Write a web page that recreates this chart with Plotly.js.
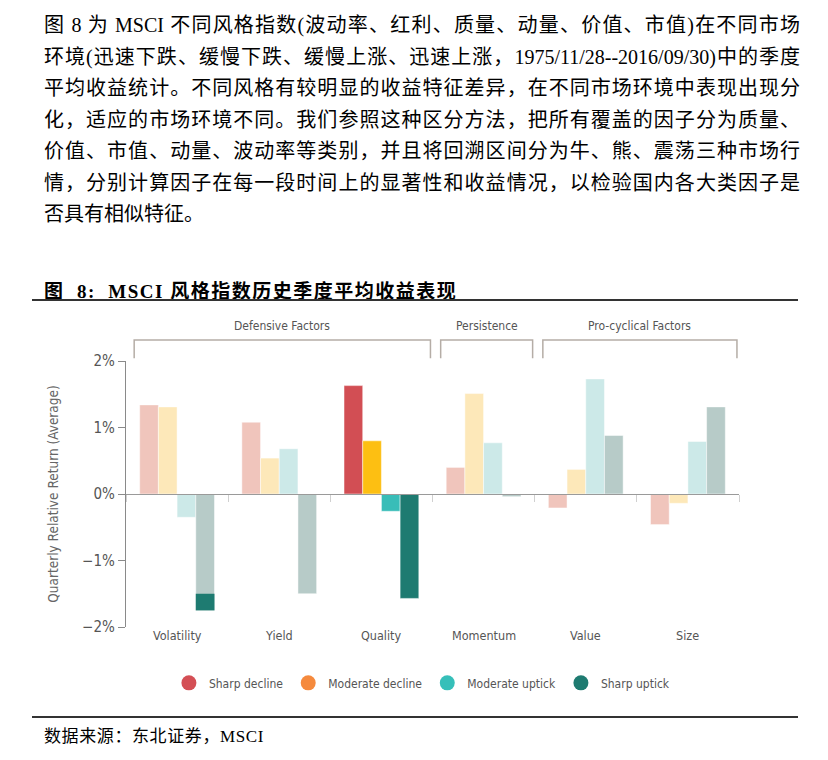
<!DOCTYPE html>
<html>
<head>
<meta charset="utf-8">
<script src="https://cdn.plot.ly/plotly-3.0.1.min.js"></script>
<style>
  body { margin: 0; background: #fff; }
  #page { position: relative; width: 828px; height: 760px; overflow: hidden; }
  #grafico { position: absolute; left: 0; top: 0; width: 828px; height: 760px; }
  .txt { position: absolute; z-index: 5; color: #000; font-family: 'Liberation Serif', 'Noto Sans CJK SC', serif; }
  #paragrafo { left: 44px; top: 10px; width: 756px; font-size: 20px; line-height: 31.5px; }
  #paragrafo div { white-space: nowrap; text-align: justify; text-align-last: justify; }
  #paragrafo div.ultima { text-align-last: left; }
  #titulo { left: 44px; top: 276px; font-size: 19px; font-weight: bold; letter-spacing: 1.5px; white-space: nowrap; }
  .regua { position: absolute; z-index: 5; left: 32px; width: 766px; height: 2px; background: #333; }
  #fonte { left: 44px; top: 722px; font-size: 17px; letter-spacing: 0.6px; white-space: nowrap; }
</style>
</head>
<body>
<div id="page">
  <div id="grafico"></div>
  <div class="txt" id="paragrafo">
    <div>图 8 为 MSCI 不同风格指数(波动率、红利、质量、动量、价值、市值)在不同市场</div>
    <div>环境(迅速下跌、缓慢下跌、缓慢上涨、迅速上涨，1975/11/28--2016/09/30)中的季度</div>
    <div>平均收益统计。不同风格有较明显的收益特征差异，在不同市场环境中表现出现分</div>
    <div>化，适应的市场环境不同。我们参照这种区分方法，把所有覆盖的因子分为质量、</div>
    <div>价值、市值、动量、波动率等类别，并且将回溯区间分为牛、熊、震荡三种市场行</div>
    <div>情，分别计算因子在每一段时间上的显著性和收益情况，以检验国内各大类因子是</div>
    <div class="ultima">否具有相似特征。</div>
  </div>
  <div class="txt" id="titulo">图&nbsp; 8:&nbsp; MSCI 风格指数历史季度平均收益表现</div>
  <div class="regua" style="top:299px"></div>
  <div class="regua" style="top:716px"></div>
  <div class="txt" id="fonte">数据来源：东北证券，MSCI</div>
</div>
<script>
// Dados (retorno trimestral relativo médio, %)
const categorias = ['Volatility', 'Yield', 'Quality', 'Momentum', 'Value', 'Size'];
const quedaForte = [1.34, 1.08, 1.63, 0.40, -0.21, -0.46];
const quedaModerada = [1.31, 0.54, 0.80, 1.51, 0.37, -0.14];
const altaModerada = [-0.35, 0.68, -0.26, 0.77, 1.73, 0.79];
const altaForte = [-1.75, -1.50, -1.57, -0.04, 0.88, 1.31];
// trecho escuro no fim da barra de Volatility
const destaqueCategoria = ['Volatility'];
const destaqueBase = [-1.50];
const nomesSeries = ['Sharp decline', 'Moderate decline', 'Moderate uptick', 'Sharp uptick'];
const grupos = [
  { nome: 'Defensive Factors', de: 0, ate: 2 },
  { nome: 'Persistence', de: 3, ate: 3 },
  { nome: 'Pro-cyclical Factors', de: 4, ate: 5 }
];
const categoriaForte = 'Quality';

const FONTE = "'DejaVu Sans Condensed', 'Liberation Sans Narrow', Roboto, sans-serif";
const coresClaras = ['#f0c5bc', '#fde8b9', '#cce9e8', '#b7cbc8'];
const coresFortes = ['#d24e54', '#fdbf12', '#38bdb8', '#1e7b71'];
const coresLegenda = ['#d44f55', '#f58a3d', '#36bfb9', '#1e7b71'];

const series = [quedaForte, quedaModerada, altaModerada, altaForte];
const larguraBarra = 0.183;
const larguraGrupo = larguraBarra * 4;

const traces = series.map((valores, i) => ({
  type: 'bar',
  x: categorias,
  y: valores,
  width: larguraBarra,
  offset: -larguraGrupo / 2 + i * larguraBarra,
  marker: {
    color: categorias.map(c => c === categoriaForte ? coresFortes[i] : coresClaras[i]),
    line: { width: 0.6, color: 'rgba(255,255,255,0.8)' }
  },
  showlegend: false,
  hoverinfo: 'x+y'
}));

// pedaço escuro da barra "Sharp uptick" em Volatility
traces.push({
  type: 'bar',
  x: destaqueCategoria,
  y: destaqueCategoria.map((c, k) => altaForte[categorias.indexOf(c)] - destaqueBase[k]),
  base: destaqueBase,
  width: larguraBarra,
  offset: -larguraGrupo / 2 + 3 * larguraBarra,
  marker: { color: coresFortes[3] },
  showlegend: false
});

// legenda com círculos
nomesSeries.forEach((nome, i) => {
  traces.push({
    type: 'scatter',
    mode: 'markers',
    x: [null],
    y: [null],
    name: nome,
    marker: { symbol: 'circle', size: 15, color: coresLegenda[i] }
  });
});

const n = categorias.length;
const shapes = [];
const annotations = [];

grupos.forEach(g => {
  const x0 = (g.de + 0.08) / n;
  const x1 = (g.ate + 0.98) / n;
  shapes.push({
    type: 'path',
    xref: 'paper', yref: 'paper',
    path: `M ${x0},1.01 L ${x0},1.079 L ${x1},1.079 L ${x1},1.01`,
    line: { color: '#b5ada6', width: 1.5 }
  });
  annotations.push({
    xref: 'paper', yref: 'paper',
    x: (x0 + x1) / 2, y: 1.132, xanchor: 'center', yanchor: 'middle',
    text: g.nome, showarrow: false,
    font: { family: FONTE, size: 12, color: '#555' }
  });
});

categorias.forEach(c => {
  annotations.push({
    xref: 'x', yref: 'paper',
    x: c, y: 0, xanchor: 'center', yanchor: 'top', yshift: 1,
    text: c, showarrow: false,
    font: { family: FONTE, size: 12.5, color: '#555' }
  });
});

const layout = {
  width: 828,
  height: 760,
  margin: { l: 126, r: 89, t: 361, b: 133 },
  paper_bgcolor: 'rgba(0,0,0,0)',
  plot_bgcolor: 'rgba(0,0,0,0)',
  barmode: 'overlay',
  font: { family: FONTE, color: '#555' },
  xaxis: {
    type: 'category',
    anchor: 'free',
    position: 0.5,
    range: [-0.5, n - 0.5],
    showline: true,
    linecolor: '#9a9a9a',
    linewidth: 1.2,
    ticks: 'outside',
    tickson: 'boundaries',
    ticklen: 7,
    tickcolor: '#d0d0d0',
    showticklabels: false,
    showgrid: false,
    zeroline: false,
    fixedrange: true
  },
  yaxis: {
    range: [-2, 2],
    dtick: 1,
    ticksuffix: '%',
    ticks: 'outside',
    ticklen: 7,
    tickcolor: '#8a8a8a',
    showline: true,
    linecolor: '#8a8a8a',
    linewidth: 1.2,
    showgrid: false,
    zeroline: false,
    tickfont: { family: FONTE, size: 15, color: '#555' },
    title: {
      text: 'Quarterly Relative Return (Average)',
      font: { family: FONTE, size: 13.5, color: '#666' },
      standoff: 20
    },
    fixedrange: true
  },
  showlegend: true,
  legend: {
    orientation: 'h',
    x: 0.07, xanchor: 'left',
    y: -0.21, yanchor: 'middle',
    font: { family: FONTE, size: 12, color: '#555' },
    itemwidth: 30
  },
  shapes: shapes,
  annotations: annotations
};

Plotly.newPlot('grafico', traces, layout, { displayModeBar: false, staticPlot: true });
</script>
</body>
</html>
